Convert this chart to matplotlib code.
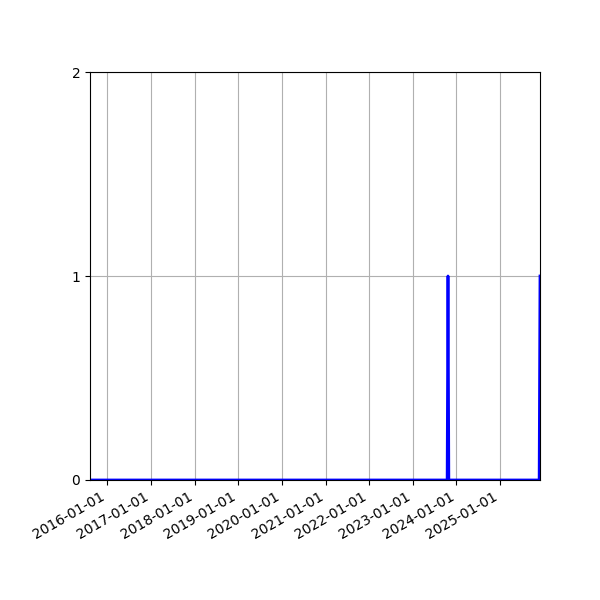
import pandas as pd
import matplotlib
matplotlib.use('Agg')
import matplotlib.pyplot as plt
import matplotlib.dates as mdates

# weekly counts, only the change points are kept
dates = ['2015-08-09', '2023-10-15', '2023-10-22', '2023-10-29', '2025-11-23', '2025-11-30']
counts = [0, 0, 1, 0, 0, 1]

x = pd.to_datetime(dates)

fig, ax = plt.subplots(figsize=(6, 6), dpi=100)
ax.plot(x, counts, color='blue', linewidth=2)

ax.set_xlim(x[0], x[-1])
ax.set_ylim(0, 2)
ax.set_yticks([0, 1, 2])
ax.xaxis.set_major_locator(mdates.YearLocator())
ax.xaxis.set_major_formatter(mdates.DateFormatter('%Y-%m-%d'))
ax.grid(True)

fig.autofmt_xdate()
fig.subplots_adjust(left=0.15, right=0.9, top=0.88, bottom=0.2)
plt.savefig('out.png')
